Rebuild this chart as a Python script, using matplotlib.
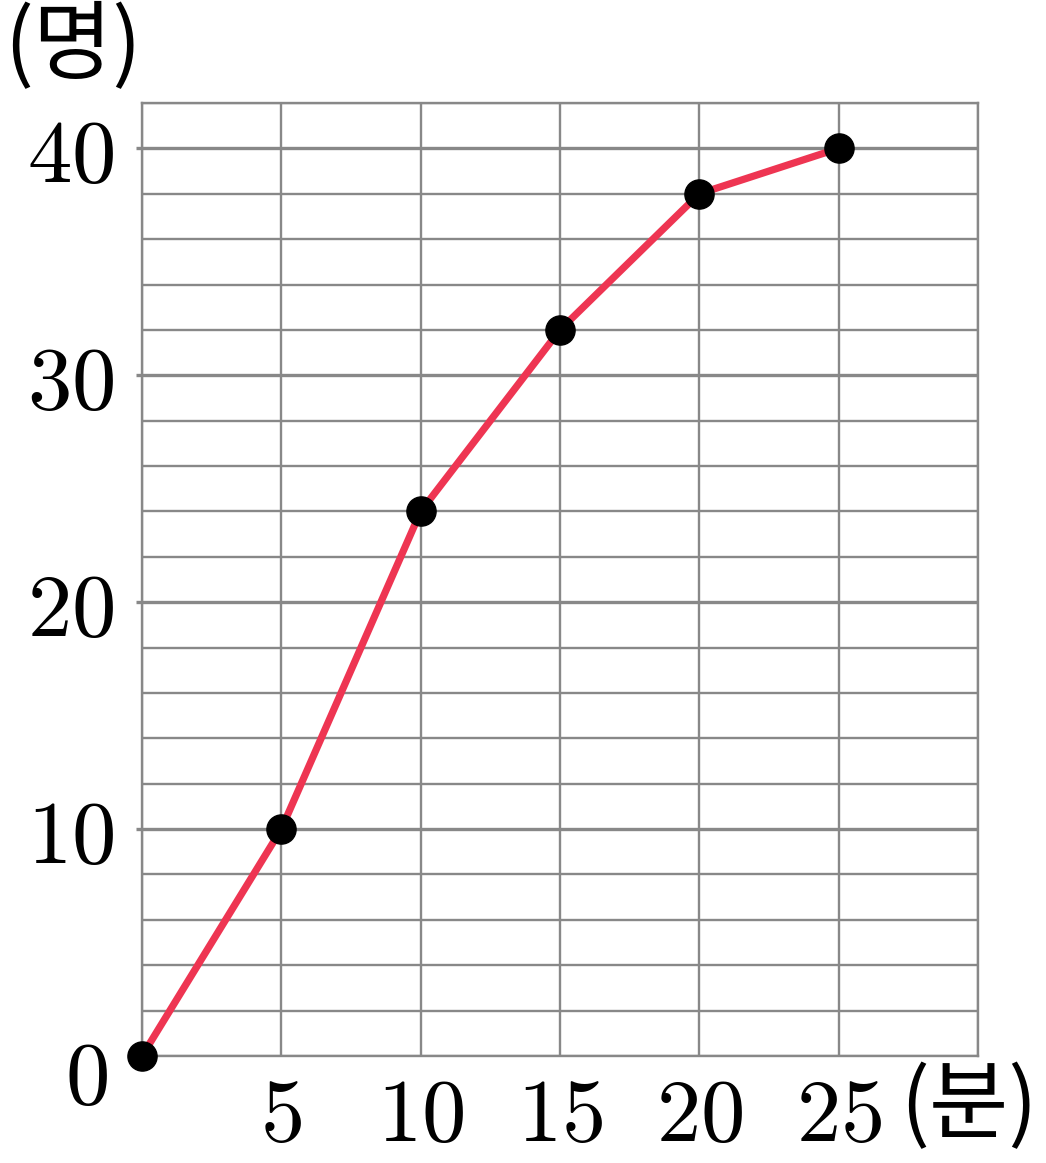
import matplotlib
matplotlib.use("Agg")
import matplotlib.pyplot as plt

minutes = [0, 5, 10, 15, 20, 25]
people = [0, 10, 24, 32, 38, 40]
x_ticks = [5, 10, 15, 20, 25]
y_ticks = [10, 20, 30, 40]

plt.rcParams['mathtext.fontset'] = 'cm'
W, H = 1046, 1163
fig = plt.figure(figsize=(W / 100, H / 100), dpi=100)
ax = fig.add_axes([142 / W, (H - 1056) / H, (978 - 142) / W, (1056 - 103) / H])
ax.set_xlim(0, 30)
ax.set_ylim(0, 42)

grid_c = '#888888'
ax.set_xticks(range(0, 31, 5))
ax.set_xticklabels([''] + [f'${v}$' for v in x_ticks] + [''])
ax.set_yticks([0] + y_ticks)
ax.set_yticklabels([''] + [f'${v}$' for v in y_ticks])
ax.set_yticks(range(0, 43, 2), minor=True)
ax.grid(True, which='major', axis='y', color=grid_c, lw=2.4)
ax.grid(True, which='minor', axis='y', color=grid_c, lw=1.7)
ax.grid(True, which='major', axis='x', color=grid_c, lw=1.7)
ax.set_axisbelow(True)
ax.tick_params(axis='y', which='major', length=4, width=2.4, color=grid_c, pad=16, labelsize=64)
ax.tick_params(axis='y', which='minor', length=0)
ax.tick_params(axis='x', length=0, pad=12, labelsize=64)
for s in ax.spines.values():
    s.set_color(grid_c)
    s.set_linewidth(1.7)

ax.plot(minutes, people, color='#EE3552', lw=5.2, marker='o', ms=21,
        mfc='black', mec='black', clip_on=False, zorder=5)

fig.text(86 / W, 1 - 1080 / H, '$0$', fontsize=64, ha='center', va='center')
fig.text(4 / W, 1 - 47 / H, '(명)', fontsize=62, family=['Noto Sans CJK KR', 'DejaVu Sans'],
         ha='left', va='center')
fig.text(900 / W, 1 - 1108 / H, '(분)', fontsize=62, family=['Noto Sans CJK KR', 'DejaVu Sans'],
         ha='left', va='center')

fig.savefig('out.png', dpi=100)
